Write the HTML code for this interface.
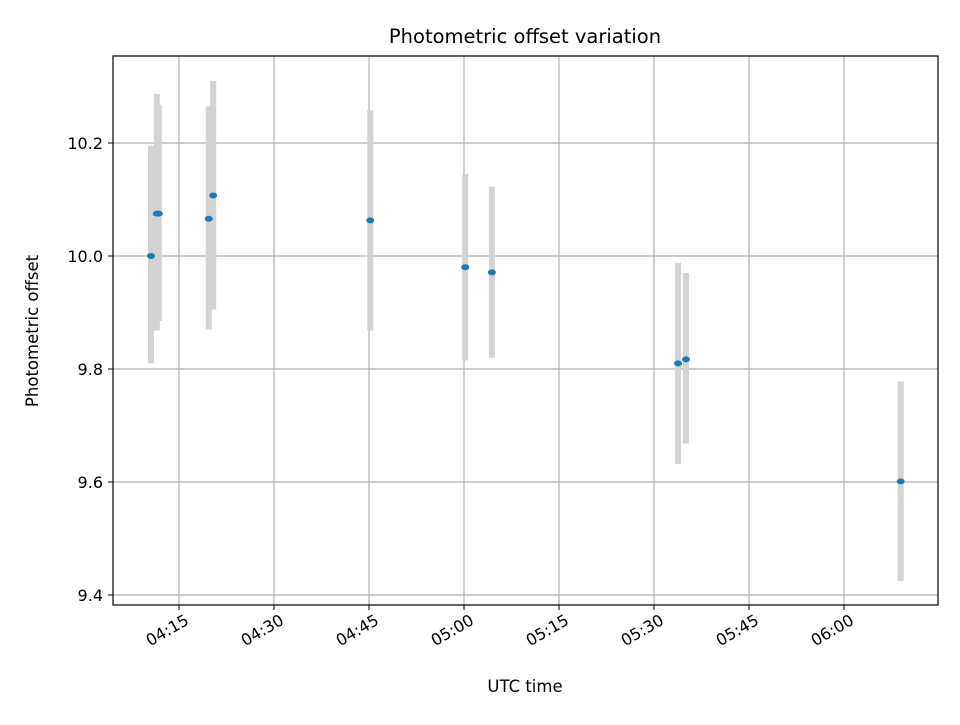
<!DOCTYPE html>
<html><head><meta charset="utf-8"><style>
html,body{margin:0;padding:0;background:#fff;}
svg text{font-family:"DejaVu Sans","Liberation Sans",sans-serif;}
</style></head><body>
<svg id="chart" width="960" height="720" xmlns="http://www.w3.org/2000/svg">
<rect x="0" y="0" width="960" height="720" fill="#fff"/>
<text x="525" y="43" font-size="19.5" text-anchor="middle">Photometric offset variation</text>
<g id="grid"></g>
<g id="bars"></g>
<g id="points"></g>
<rect x="113" y="56" width="825" height="549" fill="none" stroke="#000" stroke-width="1.2"/>
<g id="xticks"></g>
<g id="yticks"></g>
<text x="525" y="692" font-size="16.5" text-anchor="middle">UTC time</text>
<text x="38" y="331" font-size="16.5" text-anchor="middle" transform="rotate(-90 38 331)">Photometric offset</text>
</svg>
<script>
// times in minutes after 04:00
const times = [10.58, 11.5, 11.8, 19.7, 20.4, 45.2, 60.2, 64.4, 93.8, 95.05, 128.95];
const values = [10.000, 10.075, 10.075, 10.066, 10.107, 10.063, 9.980, 9.971, 9.810, 9.817, 9.601];
const lows = [9.810, 9.868, 9.885, 9.870, 9.905, 9.868, 9.815, 9.820, 9.632, 9.668, 9.425];
const highs = [10.195, 10.287, 10.268, 10.265, 10.310, 10.258, 10.145, 10.123, 9.988, 9.970, 9.778];
const xTickMinutes = [15, 30, 45, 60, 75, 90, 105, 120];
const xTickLabels = ["04:15","04:30","04:45","05:00","05:15","05:30","05:45","06:00"];
const yTicks = [9.4, 9.6, 9.8, 10.0, 10.2];
const yTickLabels = ["9.4","9.6","9.8","10.0","10.2"];

const X = m => 179 + (m - 15) * (95 / 15);
const Y = v => 256 - (v - 10.0) * 565;
const NS = "http://www.w3.org/2000/svg";
function mk(tag, attrs, parent){const e=document.createElementNS(NS,tag);for(const k in attrs)e.setAttribute(k,attrs[k]);parent.appendChild(e);return e;}
const grid=document.getElementById('grid'), bars=document.getElementById('bars'), pts=document.getElementById('points');
const xt=document.getElementById('xticks'), yt=document.getElementById('yticks');

xTickMinutes.forEach((m,i)=>{
  const x=X(m);
  const g=mk('line',{x1:x,x2:x,y1:56,y2:605,stroke:'#b0b0b0','stroke-width':1.2},grid);
  
  
  const t=mk('line',{x1:x,x2:x,y1:605,y2:610,stroke:'#000','stroke-width':1},xt);
  
  
  const l=mk('text',{x:0,y:0,'font-size':16,'text-anchor':'end',dy:'0.75em',transform:`translate(${x+5} 613) rotate(-30)`},xt);
  l.textContent=xTickLabels[i];
  
  
});
yTicks.forEach((v,i)=>{
  const y=Y(v);
  const g=mk('line',{x1:113,x2:938,y1:y,y2:y,stroke:'#b0b0b0','stroke-width':1.2},grid);
  
  
  const t=mk('line',{x1:108,x2:113,y1:y,y2:y,stroke:'#000','stroke-width':1},yt);
  
  
  const l=mk('text',{x:103,y:y+6,'font-size':16,'text-anchor':'end'},yt);
  l.textContent=yTickLabels[i];
  
  
});
times.forEach((m,i)=>{
  const x=X(m);
  const b=mk('line',{x1:x,x2:x,y1:Y(highs[i]),y2:Y(lows[i]),stroke:'#d3d3d3','stroke-width':6},bars);
  
  
});
times.forEach((m,i)=>{
  const p=mk('ellipse',{cx:X(m),cy:Y(values[i]),rx:4,ry:3,fill:'#1f77b4'},pts);
  
  
});
</script>
</body></html>
